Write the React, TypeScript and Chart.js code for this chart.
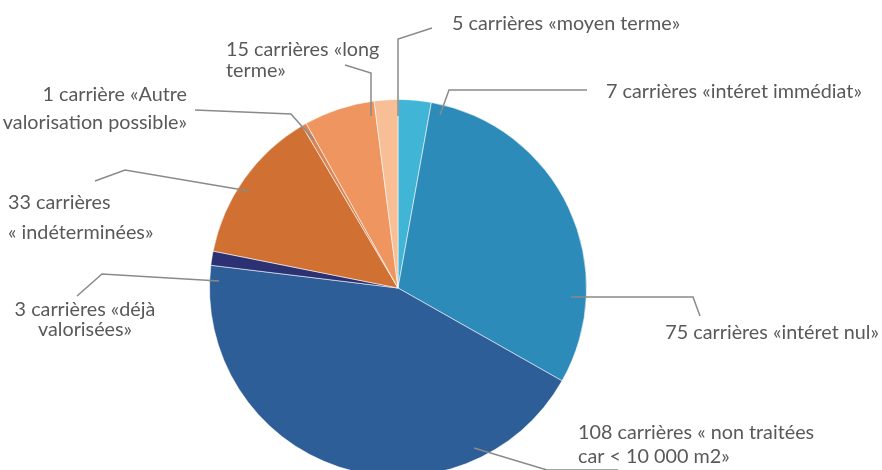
import React, { useEffect, useRef } from "react";
import { Chart, registerables } from "chart.js";

Chart.register(...registerables);

const categories: string[][] = [
  ["7 carrières «intéret immédiat»"],
  ["75 carrières «intéret nul»"],
  ["108 carrières « non traitées", "car < 10 000 m2»"],
  ["3 carrières «déjà", "valorisées»"],
  ["33 carrières", "« indéterminées»"],
  ["1 carrière «Autre", "valorisation possible»"],
  ["15 carrières «long", "terme»"],
  ["5 carrières «moyen terme»"],
];
const values: number[] = [7, 75, 108, 3, 33, 1, 15, 5];
const colors: string[] = [
  "#41B5D6",
  "#2D8BBA",
  "#2E5E97",
  "#2C3173",
  "#D07033",
  "#DB8656",
  "#EE9560",
  "#F8BE96",
];

// label layout: leader polyline and text placement, offsets from pie centre (px)
type LabelLayout = {
  line: [number, number][];
  x: number;
  ys: number[];
  align: CanvasTextAlign;
};
const labelLayout: LabelLayout[] = [
  { line: [[42, -173], [51, -198], [189, -198]], x: 208, ys: [-196], align: "left" },
  { line: [[173, 9], [295, 9], [302, 28]], x: 481, ys: [45], align: "right" },
  { line: [[76, 160], [149, 182], [220, 182]], x: 180, ys: [145, 169], align: "left" },
  { line: [[-179, -7], [-296, -14], [-321, 8]], x: -313, ys: [22, 42], align: "center" },
  { line: [[-149, -97], [-273, -118], [-303, -107]], x: -390, ys: [-85, -55], align: "left" },
  { line: [[-84, -148], [-107, -174], [-203, -178]], x: -211, ys: [-193, -165], align: "right" },
  { line: [[-27, -172], [-27, -215], [-53, -223]], x: -172, ys: [-238, -217], align: "left" },
  { line: [[0, -172], [0, -249], [34, -260]], x: 54, ys: [-264], align: "left" },
];

const labelPlugin = {
  id: "outsideLabels",
  afterDraw(chart: any) {
    const meta = chart.getDatasetMeta(0);
    const arc0 = meta.data[0];
    if (!arc0) return;
    const cx = arc0.x;
    const cy = arc0.y;
    const ctx: CanvasRenderingContext2D = chart.ctx;
    ctx.save();
    ctx.font = "16px Lato";
    const w16 = ctx.measureText(categories[0][0]).width;
    const size = (16 * 256) / w16;
    ctx.font = `${size.toFixed(2)}px Lato`;
    ctx.strokeStyle = "#8A8A8A";
    ctx.lineWidth = 1.5;
    ctx.fillStyle = "#595959";
    ctx.textBaseline = "middle";
    labelLayout.forEach((lay, i) => {
      ctx.beginPath();
      lay.line.forEach(([dx, dy], j) => {
        if (j === 0) ctx.moveTo(cx + dx, cy + dy);
        else ctx.lineTo(cx + dx, cy + dy);
      });
      ctx.stroke();
      ctx.textAlign = lay.align;
      categories[i].forEach((t, k) => {
        ctx.fillText(t, cx + lay.x, cy + lay.ys[k]);
      });
    });
    ctx.restore();
  },
};

export default function App() {
  const ref = useRef<HTMLCanvasElement | null>(null);
  useEffect(() => {
    if (!ref.current) return;
    const chart = new Chart(ref.current, {
      type: "pie",
      data: {
        labels: categories.map((c) => c.join(" ")),
        datasets: [
          {
            data: values,
            backgroundColor: colors,
            borderColor: "rgba(255,255,255,0.55)",
            borderWidth: 1,
          },
        ],
      },
      options: {
        responsive: false,
        animation: false,
        layout: { padding: { top: 99, bottom: 103, left: 0, right: 86 } },
        plugins: {
          legend: { display: false },
          tooltip: { enabled: false },
        },
      },
      plugins: [labelPlugin],
    });
    return () => chart.destroy();
  }, []);
  return (
    <div
      style={{
        position: "fixed",
        top: 0,
        left: 0,
        width: 882,
        height: 470,
        overflow: "hidden",
        background: "#fff",
      }}
    >
      <canvas ref={ref} width={882} height={580} style={{ display: "block" }} />
    </div>
  );
}
